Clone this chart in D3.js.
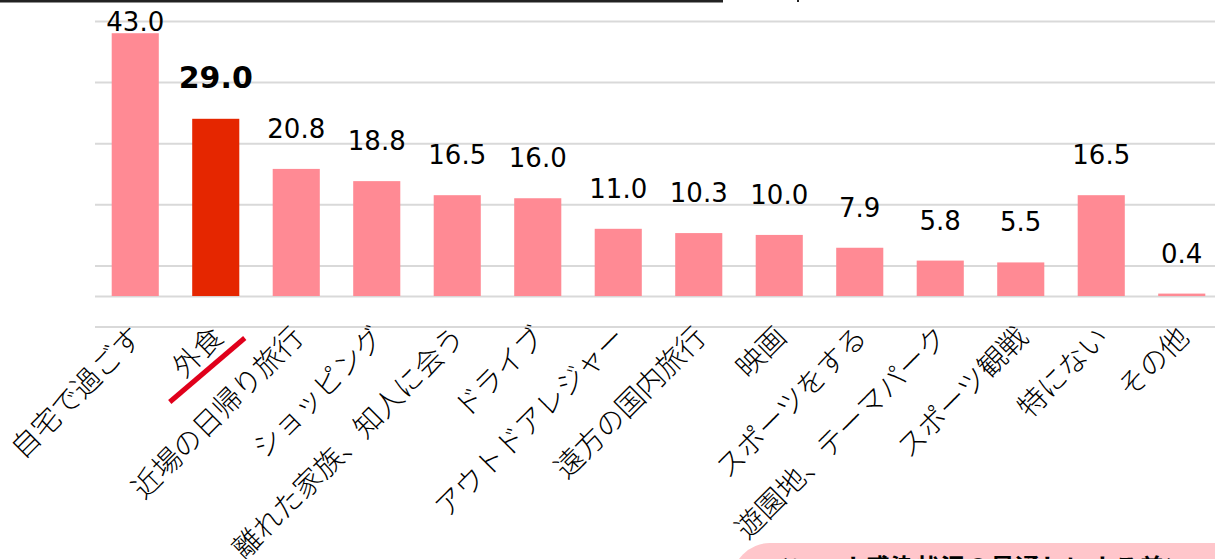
<!DOCTYPE html>
<html><head><meta charset="utf-8">
<script src="https://cdn.jsdelivr.net/npm/d3@7"></script>
<style>
html,body{margin:0;padding:0;background:#fff;overflow:hidden;}
svg{display:block;}
</style></head>
<body>
<svg id="chart" width="1215" height="559"></svg>
<script>
const categories = ["自宅で過ごす","外食","近場の日帰り旅行","ショッピング","離れた家族、知人に会う","ドライブ","アウトドアレジャー","遠方の国内旅行","映画","スポーツをする","遊園地、テーマパーク","スポーツ観戦","特にない","その他"];
const values = [43.0,29.0,20.8,18.8,16.5,16.0,11.0,10.3,10.0,7.9,5.8,5.5,16.5,0.4];
const highlight = ["外食"];
const gridTicks = [-5,5,15,25,35,45];
const boxText = "＜コロナ感染状況の見通しによる差＞";

const svg = d3.select("#chart");
const x = d3.scaleBand().domain(categories).range([95,1222]).paddingInner(0.415).paddingOuter(0.2075);
const y = d3.scaleLinear().domain([-5,45]).range([326.6,21]);

// top border remnant
svg.append("rect").attr("x",0).attr("y",0).attr("width",723).attr("height",2.5).attr("fill","#222");
svg.append("rect").attr("x",797).attr("y",0).attr("width",2).attr("height",2).attr("fill","#222");

// gridlines
const gAxis = svg.append("g").attr("transform","translate(95,0)")
  .call(d3.axisLeft(y).tickValues(gridTicks.concat([0])).tickSize(-1130).tickFormat(""));
gAxis.select(".domain").remove();
gAxis.selectAll(".tick line").attr("stroke","#d9d9d9").attr("stroke-width",2);

// bars
svg.append("g").selectAll("rect").data(categories).join("rect")
  .attr("x",d=>x(d)).attr("width",x.bandwidth())
  .attr("y",(d,i)=>y(values[i])).attr("height",(d,i)=>y(0)-y(values[i]))
  .attr("fill",d=>highlight.includes(d)?"#e52600":"#ff8a94");

// value labels
svg.append("g").selectAll("text").data(categories).join("text")
  .attr("x",d=>x(d)+x.bandwidth()/2)
  .attr("y",(d,i)=>Math.max(y(values[i])-31,31))
  .attr("text-anchor","middle")
  .attr("font-family","DejaVu Sans, Verdana, sans-serif")
  .attr("font-size",d=>highlight.includes(d)?30:26)
  .attr("font-weight",d=>highlight.includes(d)?"bold":"normal")
  .attr("fill","#000")
  .text((d,i)=>values[i].toFixed(1));

// category labels
const gx = svg.append("g").attr("transform","translate(0,296)")
  .call(d3.axisBottom(x).tickSize(0).tickPadding(0));
gx.select(".domain").remove();
gx.selectAll(".tick text")
  .attr("font-family","'Noto Sans CJK JP', sans-serif")
  .attr("font-size",28.5)
  .attr("font-weight",300)
  .attr("fill","#000")
  .attr("text-anchor","end")
  .attr("dy",0)
  .attr("transform","translate(9,43) rotate(-45)")
  .attr("y",0).attr("x",0);

// red underline under highlighted label
highlight.forEach(h=>{
  const cx = x(h)+x.bandwidth()/2;
  svg.append("line").attr("x1",cx-46).attr("y1",402).attr("x2",cx+29).attr("y2",338)
    .attr("stroke","#e0001b").attr("stroke-width",5);
});

// pink box at bottom
const bx=732, by=543, r=38;
svg.append("path")
  .attr("d",`M${bx},${by+r} A${r},${r} 0 0 1 ${bx+r},${by} L1230,${by} L1230,600 L${bx},600 Z`)
  .attr("fill","#ffc6cb");
svg.append("text").attr("x",765).attr("y",577)
  .attr("font-family","'Noto Sans CJK JP', sans-serif").attr("font-weight","bold")
  .attr("font-size",25).attr("fill","#000").text(boxText);
</script>
</body></html>
